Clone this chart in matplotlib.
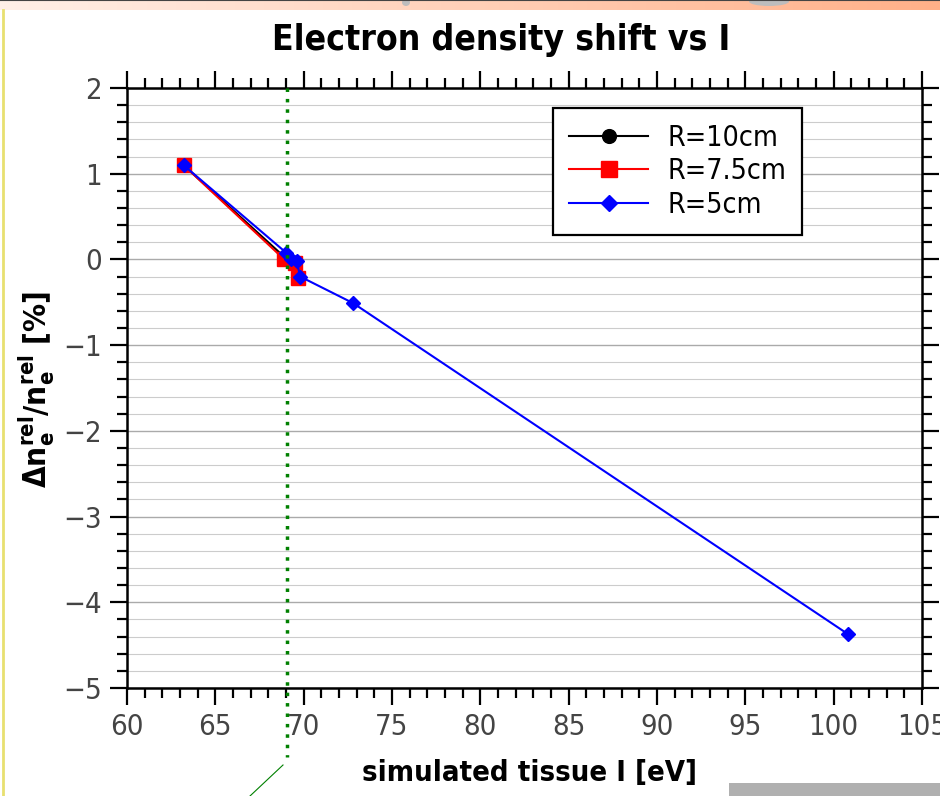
import matplotlib
matplotlib.use("Agg")
import matplotlib.pyplot as plt
import numpy as np
from matplotlib.ticker import MultipleLocator
from matplotlib.patches import Rectangle, Ellipse
from matplotlib.lines import Line2D
from matplotlib.colors import LinearSegmentedColormap

# Data
I_10 = [63.2, 68.9, 69.5, 69.7]
d_10 = [1.10, 0.03, -0.03, -0.20]
I_75 = [63.2, 68.9, 69.5, 69.7]
d_75 = [1.10, 0.00, -0.04, -0.22]
I_5 = [63.2, 69.0, 69.3, 69.6, 69.8, 72.8, 100.8]
d_5 = [1.10, 0.08, 0.01, -0.02, -0.20, -0.51, -4.37]
ref_I = 69.05
labels = ["R=10cm", "R=7.5cm", "R=5cm"]

plt.rcParams["font.family"] = ["DejaVu Sans"]
plt.rcParams["font.stretch"] = "condensed"
plt.rcParams["mathtext.fontset"] = "dejavusans"

W, H = 940, 796
fig = plt.figure(figsize=(W/100, H/100), dpi=100)
fig.patch.set_facecolor("white")

ax = fig.add_axes([127/W, 1-688/H, (922-127)/W, 600/H])

l1, = ax.plot(I_10, d_10, color="black", marker="o", ms=9, lw=1.5, label=labels[0], zorder=3)
l2, = ax.plot(I_75, d_75, color="red", marker="s", ms=10, lw=1.5, label=labels[1], zorder=4)
l3, = ax.plot(I_5, d_5, color="blue", marker="D", ms=7, lw=1.5, label=labels[2], zorder=5)

ax.plot([ref_I, ref_I], [2, -5.8], color="green", ls=(0, (1, 2)), lw=2.5, clip_on=False, zorder=6)

ax.set_xlim(60, 105)
ax.set_ylim(-5, 2)
ax.xaxis.set_major_locator(MultipleLocator(5))
ax.xaxis.set_minor_locator(MultipleLocator(1))
ax.yaxis.set_major_locator(MultipleLocator(1))
ax.yaxis.set_minor_locator(MultipleLocator(0.2))

ax.tick_params(which="both", direction="out", top=True, right=True, bottom=True, left=True,
               width=1.6, color="black")
ax.tick_params(which="major", length=12, labelsize=21, labelcolor="#444444", pad=6)
ax.tick_params(which="minor", length=7.5)
for s in ax.spines.values():
    s.set_linewidth(1.8)

ax.yaxis.grid(True, which="major", color="#aaaaaa", lw=1.0)
ax.yaxis.grid(True, which="minor", color="#cccccc", lw=0.8)
ax.set_axisbelow(True)

fig.text(501/W, 1-40/H, "Electron density shift vs I", ha="center", va="center",
         fontsize=25.5, fontweight="bold")
fig.text(530/W, 1-773/H, "simulated tissue I [eV]", ha="center", va="center",
         fontsize=21, fontweight="bold")
fig.text(37/W, 1-389/H, r"$\mathbf{\Delta n_e^{rel}/n_e^{rel}}$ [%]", ha="center", va="center",
         rotation=90, fontsize=22.5, fontweight="bold")

leg = ax.legend(handles=[l1, l2, l3], loc="upper left", bbox_to_anchor=((553-127)/795, 1-(108-88)/600),
                borderaxespad=0, fontsize=20.5, frameon=True, fancybox=False, edgecolor="black",
                framealpha=1, handlelength=2.8, borderpad=0.55, labelspacing=0.2, handletextpad=0.67,
                markerscale=1.1)
leg.get_frame().set_linewidth(1.6)

# slide decorations
top = np.linspace(0, 1, 256).reshape(1, -1)
cm = LinearSegmentedColormap.from_list("o", ["#fff0e8", "#ffb088"])
axb = fig.add_axes([0, 1-10/H, 1, 10/H])
axb.imshow(top, aspect="auto", cmap=cm, extent=[0, 1, 0, 1])
axb.set_xlim(0, 1); axb.set_ylim(0, 1)
axb.add_patch(Ellipse((769/W, 0.85), 40/W, 0.9, color="#bdbdbd", lw=0))
axb.add_patch(Ellipse((406/W, 0.75), 8/W, 0.7, color="#bdbdbd", lw=0))
axb.axhline(0.97, color="#444444", lw=0.8)
axb.axis("off")
fig.add_artist(Rectangle((729/W, 0), 211/W, 13/H, transform=fig.transFigure, color="#b0b0b0", lw=0))
fig.add_artist(Line2D([3/W, 3/W], [0, 1-10/H], transform=fig.transFigure, color="#e8e070", lw=2))
fig.add_artist(Line2D([283/W, 250/W], [1-765/H, 1-796/H], transform=fig.transFigure, color="green", lw=0.8))

fig.savefig("out.png", dpi=100)
